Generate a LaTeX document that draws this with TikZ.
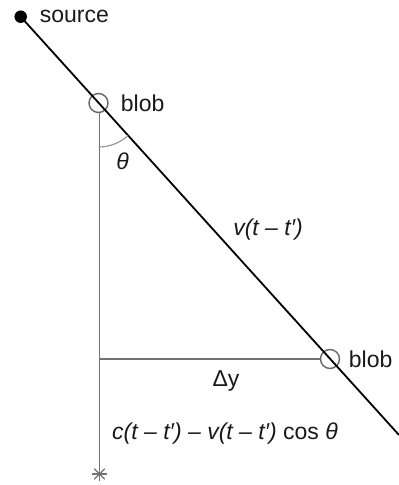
\documentclass[tikz,border=0pt]{standalone}
\usepackage{fontspec}
\setmainfont{Liberation Sans}
\usetikzlibrary{positioning}

\begin{document}
\begin{tikzpicture}[
    x=1pt, y=1pt,
    font=\fontsize{23}{27}\selectfont,
    dot/.style={circle, fill=black, minimum size=12.5pt, inner sep=0pt},
    blob/.style={circle, draw=black!60, line width=1.4pt, minimum size=19pt, inner sep=0pt},
    lbl/.style={inner sep=0pt, text=black!90},
    ray/.style={line width=1.8pt, black},
    guide/.style={line width=1.6pt, black!55},
    anglearc/.style={line width=1.2pt, black!40},
]
\useasboundingbox (0,0) rectangle (399,485);

% Nodes
\node[dot] (source) at (20.7,468.3) {};
\node[blob] (blob1) at (98.5,382) {};
\node[blob] (blob2) at (330,126) {};
\coordinate (rayend) at (399,50);
\coordinate (star) at (99.5,11);

% Labels
\node[lbl, right=12.5pt of source] (sourcelbl) {source};
\node[lbl, right=12pt of blob1] (blob1lbl) {blob};
\node[lbl, right=8.5pt of blob2] (blob2lbl) {blob};
\node[lbl] (theta) at (122.5,323.3) {\itshape θ};
\node[lbl] (vel) at (268,255.5) {\itshape v(t – t′)};
\node[lbl] (dy) at (226,103.7) {Δy};
\node[lbl] (dist) at (225,51) {\itshape c(t – t′) – v(t – t′) \upshape cos \itshape θ};

% Lines
\draw[ray] (source.center) -- (rayend);
\draw[guide] (blob1.south -| star) -- (star);
\draw[guide] (blob2.west -| star) -- (blob2.west);
\draw[anglearc] ([shift={(-90:44)}]blob1.center) arc[start angle=-90, end angle=-47.9, radius=44];

% Star
\foreach \a in {0,45,...,315}
    \draw[guide, line width=1.2pt] (star) -- ++(\a:7.5);

\end{tikzpicture}
\end{document}
